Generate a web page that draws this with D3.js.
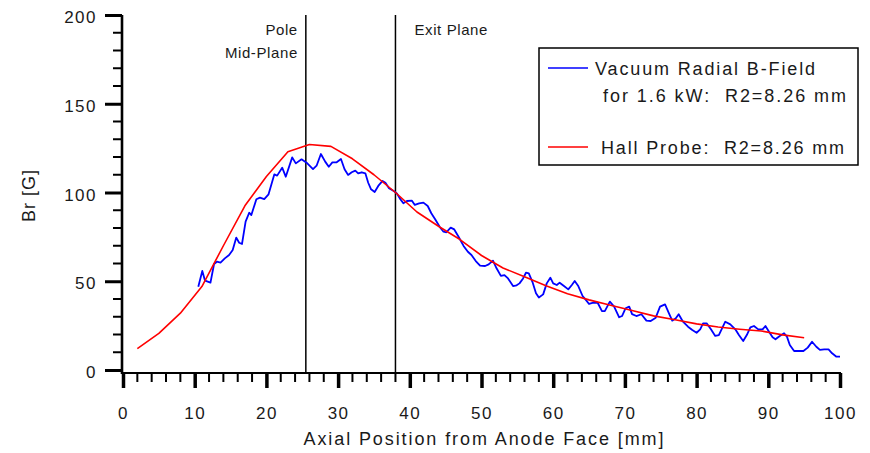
<!DOCTYPE html>
<html>
<head>
<meta charset="utf-8">
<script src="https://cdn.jsdelivr.net/npm/d3@7"></script>
<style>
  body { margin: 0; background: #fff; }
  text { font-family: "Liberation Sans", Arial, sans-serif; fill: #1a1a1a; }
</style>
</head>
<body>
<script>
// Hall probe points (every 3 mm)
var hallX = [2, 5, 8, 11, 14, 17, 20, 23, 26, 29, 32, 35, 38, 41, 44, 47, 50,
             53, 56, 59, 62, 65, 68, 71, 74, 77, 80, 83, 86, 89, 92, 95];
var hallBr = [12, 20.6, 32, 47, 70, 92.5, 109, 123, 127, 126, 119, 110, 100, 89, 81, 73.5, 64.5,
              57.5, 52.5, 47.5, 43, 39.5, 36.5, 33.5, 30.5, 28.3, 26, 24.2, 23, 22, 19.8, 18.2];

// vacuum radial field (simulation)
var vacX = [10.5, 11.06, 11.44, 12.2, 12.7, 13.1, 13.6, 14.2, 14.8, 15.3, 15.8, 16.2, 16.6, 17.1, 17.6, 17.9,
            18.6, 19.1, 19.7, 20.3, 21.1, 21.5, 22.2, 22.7, 23.6, 24.1, 24.9, 25.6, 26.5, 27.0, 27.6, 28.2,
            28.7, 29.2, 29.8, 30.4, 30.9, 31.4, 31.9, 32.4, 32.8, 33.3, 33.8, 34.2, 34.6, 35.1, 35.6, 36.2,
            36.6, 37.1, 37.7, 38.2, 38.6, 39.1, 39.6, 40.3, 40.7, 41.3, 41.9, 42.5, 43.0, 43.6, 44.2, 44.7,
            45.1, 45.7, 46.2, 46.8, 47.5, 48.1, 48.6, 49.2, 49.8, 50.5, 51.0, 51.6, 52.1, 52.7, 53.2, 53.7,
            54.4, 54.9, 55.3, 55.8, 56.2, 56.6, 57.1, 57.6, 58.0, 58.6, 59.1, 59.6, 60.0, 60.5, 60.9, 61.5,
            62.1, 62.6, 63.0, 63.5, 64.1, 64.5, 65.0, 65.6, 66.2, 66.8, 67.2, 67.9, 68.5, 69.2, 69.6, 70.1,
            70.6, 71.0, 71.6, 72.3, 73.0, 73.6, 74.3, 74.9, 75.6, 76.1, 76.6, 77.1, 77.5, 78.1, 78.8, 79.4,
            80.0, 80.5, 80.9, 81.4, 82.0, 82.6, 83.1, 84.0, 84.7, 85.4, 85.9, 86.5, 87.0, 87.5, 88.0, 88.6,
            89.2, 89.6, 90.1, 90.6, 91.0, 91.6, 92.2, 92.6, 93.0, 93.6, 94.2, 94.9, 95.5, 96.1, 96.7, 97.2,
            97.8, 98.4, 98.9, 99.5, 100];
var vacBr = [46.9, 55.8, 50.3, 49.2, 59.7, 61, 60.5, 62.9, 64.8, 67.6, 74.6, 71.7, 71, 83.6, 88.6, 87.3,
             96.2, 97.1, 96.3, 99, 110.2, 109.5, 114, 108.9, 119.8, 116.4, 118.7, 116.8, 113.2, 115.1, 121.7, 117.4,
             114.5, 117, 117, 118.9, 113.1, 109.9, 111.4, 112.3, 110.8, 111.4, 110.8, 105.5, 101.8, 100.3, 103.7, 106.5,
             105.5, 102.4, 101, 99.5, 96.7, 93.9, 95.2, 95.4, 93, 93.9, 94.3, 92.4, 88.3, 84.5, 80.4, 77.9,
             77.6, 80.2, 79.2, 75.1, 69.9, 66.6, 64.8, 61.4, 58.8, 58.6, 59.5, 61.6, 57.3, 53, 53.5, 51.6,
             47.3, 47.7, 48.8, 51.6, 54.8, 54.4, 49.7, 43.2, 40.8, 42.6, 48.8, 52, 48.8, 47.9, 49.2, 47.3,
             45.4, 47.9, 50.1, 47.3, 41.7, 39.8, 37.2, 37.9, 37.9, 33.2, 33.2, 38.5, 35.7, 29.7, 30.4, 34.8,
             35.7, 31.5, 30.4, 31.4, 27.8, 27.6, 29.5, 35.7, 37, 32.3, 27.8, 29.1, 31.4, 27.2, 24.4, 22.5,
             21, 22.9, 26.3, 26.3, 22.9, 19.2, 19.7, 27.2, 25.7, 22.9, 19.7, 16.3, 19.7, 24, 24.8, 22.9,
             22.9, 24.8, 21.6, 18.4, 17.3, 19.2, 20.7, 18.8, 14.1, 10.7, 10.7, 10.7, 12.6, 15.9, 13.1, 11.3,
             11.6, 11.6, 9.4, 7.5, 7.5];

var markers = [{x: 25.5, lines: ["Pole", "Mid-Plane"], side: "left"},
               {x: 38, lines: ["Exit Plane"], side: "right"}];
var legendLabels = [["Vacuum Radial B-Field", "for 1.6 kW:  R2=8.26 mm"], ["Hall Probe:  R2=8.26 mm"]];

var margin = {top: 15, right: 30, bottom: 83, left: 123}
  , width = 840 - margin.left
  , height = 370 - margin.top;

var svg = d3.select("body").append("svg")
    .attr("width", 870)
    .attr("height", 453)
    .append("g")
    .attr("transform", "translate(" + margin.left + "," + margin.top + ")");

var x = d3.scaleLinear().domain([0, 100]).range([0, width]);
var y = d3.scaleLinear().domain([0, 200]).range([height, 0]);

// axes lines
svg.append("line").attr("x1", -1).attr("x2", -1).attr("y1", 0).attr("y2", height + 4)
    .attr("stroke", "#000").attr("stroke-width", 2.6);
svg.append("line").attr("x1", -2).attr("x2", width + 1).attr("y1", height + 3).attr("y2", height + 3)
    .attr("stroke", "#000").attr("stroke-width", 2);

// x ticks
var xMinor = d3.range(0, 101, 2).filter(function (d) { return d % 10 != 0; });
svg.selectAll(".xminor").data(xMinor).enter().append("line")
    .attr("x1", function (d) { return x(d); }).attr("x2", function (d) { return x(d); })
    .attr("y1", height + 3).attr("y2", height + 12)
    .attr("stroke", "#000").attr("stroke-width", 2);

var xAxis = d3.axisBottom(x).tickValues(d3.range(0, 101, 10)).tickSize(15).tickPadding(19);
var gx = svg.append("g").attr("transform", "translate(0," + (height + 3) + ")").call(xAxis);
gx.select(".domain").remove();
gx.selectAll(".tick line").attr("stroke-width", 3.5);
gx.selectAll(".tick text").style("font-size", "17px").style("letter-spacing", "1.5px")
    .attr("fill", "#1a1a1a").attr("font-family", null);

// y ticks
var yMinor = d3.range(0, 201, 10).filter(function (d) { return d % 50 != 0; });
svg.selectAll(".yminor").data(yMinor).enter().append("line")
    .attr("x1", -10).attr("x2", -1)
    .attr("y1", function (d) { return y(d); }).attr("y2", function (d) { return y(d); })
    .attr("stroke", "#000").attr("stroke-width", 2);

var yAxis = d3.axisLeft(y).tickValues([0, 50, 100, 150, 200]).tickSize(17).tickPadding(8);
var gy = svg.append("g").attr("transform", "translate(-1,0)").call(yAxis);
gy.select(".domain").remove();
gy.selectAll(".tick line").attr("stroke-width", 3);
gy.selectAll(".tick text").style("font-size", "17px").style("letter-spacing", "1.5px")
    .attr("dy", "0.45em").attr("fill", "#1a1a1a").attr("font-family", null);

// axis titles
svg.append("text")
    .attr("x", x(50) + 2)
    .attr("y", height + 75)
    .attr("text-anchor", "middle")
    .attr("textLength", 360)
    .attr("lengthAdjust", "spacing")
    .style("font-size", "18px")
    .text("Axial Position from Anode Face [mm]");

svg.append("text")
    .attr("transform", "translate(" + (35 - margin.left) + "," + (y(100) + 3) + ") rotate(-90)")
    .attr("text-anchor", "middle")
    .style("font-size", "18px")
    .style("letter-spacing", "1px")
    .text("Br [G]");

// vertical marker lines
markers.forEach(function (m) {
    svg.append("line")
        .attr("x1", x(m.x)).attr("x2", x(m.x))
        .attr("y1", 0).attr("y2", height + 2)
        .attr("stroke", "#000").attr("stroke-width", 1.5);
    m.lines.forEach(function (t, i) {
        svg.append("text")
            .attr("x", m.side == "left" ? x(m.x) - 8 : x(m.x) + 19)
            .attr("y", 20 + i * 23)
            .attr("text-anchor", m.side == "left" ? "end" : "start")
            .style("font-size", "15px")
            .style("letter-spacing", "0.6px")
            .text(t);
    });
});

// curves
var line = d3.line()
    .x(function (d) { return x(d[0]); })
    .y(function (d) { return y(d[1]); });

var hall = hallX.map(function (d, i) { return [d, hallBr[i]]; });
var vac = vacX.map(function (d, i) { return [d, vacBr[i]]; });

svg.append("path").datum(vac)
    .attr("d", line)
    .attr("fill", "none")
    .attr("stroke", "#0000ff")
    .attr("stroke-width", 1.8)
    .attr("stroke-linejoin", "round");

svg.append("path").datum(hall)
    .attr("d", line)
    .attr("fill", "none")
    .attr("stroke", "#ff0000")
    .attr("stroke-width", 1.6)
    .attr("stroke-linejoin", "round");

// legend
var lg = svg.append("g").attr("transform", "translate(" + (539 - margin.left) + "," + (48 - margin.top) + ")");
lg.append("rect")
    .attr("width", 319).attr("height", 117)
    .attr("fill", "#fff").attr("stroke", "#000").attr("stroke-width", 1.5);

var legendColors = ["#0000ff", "#ff0000"];
var legendY = [20, 99];
var legendX = [[56, 64], [62]];
var legendLen = [[220, 243], [243]];
legendLabels.forEach(function (labels, k) {
    lg.append("line")
        .attr("x1", 9).attr("x2", 49)
        .attr("y1", legendY[k]).attr("y2", legendY[k])
        .attr("stroke", legendColors[k]).attr("stroke-width", 1.5);
    labels.forEach(function (t, i) {
        lg.append("text")
            .attr("x", legendX[k][i])
            .attr("y", legendY[k] + 7 + i * 27)
            .attr("textLength", legendLen[k][i])
            .attr("lengthAdjust", "spacing")
            .style("white-space", "pre")
            .style("font-size", "18px")
            .text(t);
    });
});
</script>
</body>
</html>
